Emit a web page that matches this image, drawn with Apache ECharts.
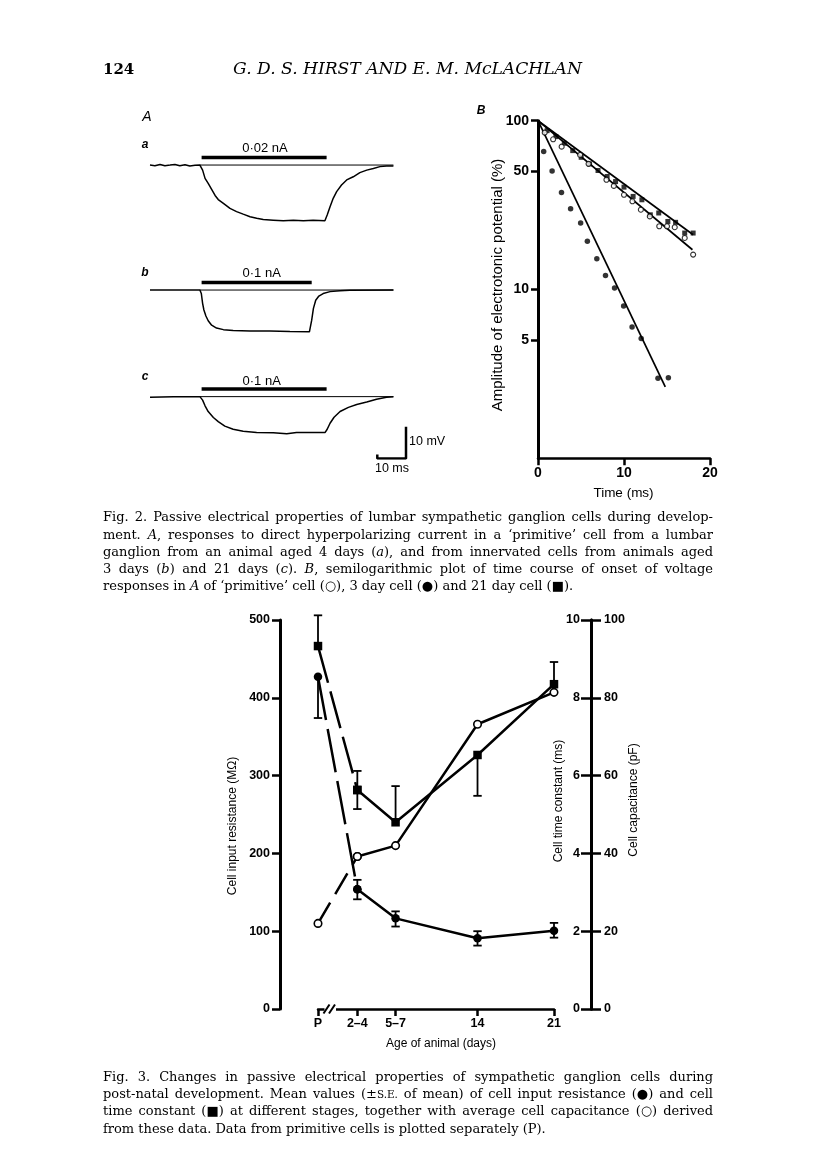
<!DOCTYPE html>
<html><head><meta charset="utf-8">
<script src="https://cdn.jsdelivr.net/npm/echarts@6/dist/echarts.min.js"></script>
<style>html,body{margin:0;padding:0;background:#fff}#c{width:816px;height:1163px}</style>
</head><body><div id="c"></div>
<script>
// ---------- Fig. 2A : voltage traces (time in ms from current onset, mV from rest) ----------
const traceA_t = [-18,-16.3,-14.5,-12.8,-11,-9.3,-7.6,-5.8,-4.1,-2.3,-0.6,0.35,1.2,2.3,3.5,4.7,5.8,7.6,9.9,12.2,14.5,16.9,19.2,21.5,25,28.5,32,35.5,38.9,43,43.8,44.8,45.9,47.1,48.8,50.6,52.9,55.2,57.6,59.9,62.2,64.5,66.9];
const traceA_v = [0,-0.2,0.2,-0.2,0,0.2,-0.2,0.1,-0.3,-0.1,0,-1.6,-4.2,-5.8,-7.7,-9.6,-10.9,-12.1,-13.7,-14.7,-15.5,-16.3,-16.8,-17.2,-17.4,-17.6,-17.4,-17.6,-17.4,-17.6,-15.8,-13.2,-10.5,-8.4,-6.3,-4.7,-3.7,-2.4,-1.6,-1.1,-0.5,-0.3,-0.3];
const traceB_t = [-18,-0.6,-0.1,0.35,0.8,1.5,2.3,3.5,5.2,7.6,11,16.9,23.8,30.8,37.6,38,38.4,39,39.8,40.9,42.4,44.8,48.3,51.7,66.9];
const traceB_v = [0,0,-1.1,-4.2,-6.3,-8.2,-9.7,-11.1,-12,-12.5,-12.8,-12.9,-12.9,-13.1,-13.2,-12.6,-9.5,-5.8,-3.2,-1.9,-1.1,-0.5,-0.2,-0.1,0];
const traceC_t = [-18,-9.9,-0.6,0.35,1.2,2.3,4.1,5.8,8.1,11,14.5,19.2,25,29.7,33.1,37.8,43.1,43.8,44.8,46.2,48.3,51.2,54.1,57.6,61,64.5,66.9];
const traceC_v = [-0.2,0,0,-1.1,-2.9,-4.7,-6.6,-7.9,-9.3,-10.3,-10.9,-11.3,-11.4,-11.7,-11.3,-11.3,-11.3,-10.3,-8.4,-6.5,-4.7,-3.4,-2.5,-1.7,-0.8,-0.2,0];
const pulseDur = [43.6, 38.4, 43.6];           // ms
const pulseLabels = ['0·02 nA', '0·1 nA', '0·1 nA'];
const traceNames = ['a', 'b', 'c'];
const refLine = [-0.6, 66.9];                   // ms, baseline reference
const scaleBar = [10, 10];                      // 10 ms, 10 mV

// ---------- Fig. 2B : semilog onset time course ----------
const day3_t = [0.66,1.64,2.73,3.79,4.96,5.74,6.84,7.85,8.9,9.96,10.94,12.0,13.95,15.16];
const day3_v = [65.6,50.4,37.6,30.1,24.8,19.3,15.2,12.1,10.2,7.98,6.0,5.12,2.98,3.0];
const day21_t = [1.06,2.08,3.06,4.04,5.02,6.0,6.98,8.04,9.02,10.0,11.06,12.08,13.06,14.04,15.1,16.0,17.06,18.04];
const day21_v = [87.3,80.5,73.5,66.5,60.7,55.5,50.7,46.7,43.6,40.4,35.6,34.0,27.7,28.4,25.3,25.0,21.6,21.6];
const prim_t = [0.78,1.76,2.75,4.9,5.88,7.96,8.82,10.0,10.98,11.96,13.0,14.1,15.0,15.9,17.06,18.04];
const prim_v = [85,77.6,70.2,62.7,55.5,44.7,41.1,36.4,33.3,29.7,27.1,23.7,23.7,23.4,20.2,16.1];
const fitDay3 = [[0,100],[14.8,2.65]];
const fitDay21 = [[0,100],[18.04,21.1]];
const fitPrim = [[0,100],[17.96,17.2]];
const logTicks = [5,10,50,100];

// ---------- Fig. 3 ----------
const ageLabels = ['P','2–4','5–7','14','21'];
const agePos = [-0.6, 3, 6.5, 14, 21];
const resistance = [427,154,116.5,91,100.7];     // MOhm
const resErrUp = [0,12,9,9,10];
const resErrDown = [53,13,10.5,9.5,9];
const timeConst = [9.33,5.63,4.8,6.53,8.35];     // ms
const tcErrUp = [0.79,0.49,0.93,0,0.57];
const tcErrDown = [0,0.49,0,1.05,0];
const capacitance = [22,39.2,42,73.2,81.4];      // pF

// ---------- captions ----------
const cap2 = [
 'Fig. 2. Passive electrical properties of lumbar sympathetic ganglion cells during develop-',
 'ment. *A*, responses to direct hyperpolarizing current in a ‘primitive’ cell from a lumbar',
 'ganglion from an animal aged 4 days (*a*), and from innervated cells from animals aged',
 '3 days (*b*) and 21 days (*c*). *B*, semilogarithmic plot of time course of onset of voltage',
 'responses in *A* of ‘primitive’ cell (○), 3 day cell (●) and 21 day cell (■).'
];
const cap3 = [
 'Fig. 3. Changes in passive electrical properties of sympathetic ganglion cells during',
 'post-natal development. Mean values (±^S.E.^ of mean) of cell input resistance (●) and cell',
 'time constant (■) at different stages, together with average cell capacitance (○) derived',
 'from these data. Data from primitive cells is plotted separately (P).'
];

// =====================================================================
const K = '#000';
const SANS = '"Liberation Sans", Arial, sans-serif';
const SERIF = '"DejaVu Serif", serif';
const mctx = document.createElement('canvas').getContext('2d');

function segs(word){
  const out=[]; let mode='n', buf='';
  for (const ch of word){
    if (ch==='*'||ch==='^'){ if(buf) out.push([mode,buf]); buf=''; const m = ch==='*'?'i':'s'; mode = mode===m?'n':m; }
    else buf+=ch;
  }
  if (buf) out.push([mode,buf]);
  return out;
}
function fontFor(m,size){
  if (m==='i') return 'italic '+size+'px '+SERIF;
  if (m==='s') return (size*0.8).toFixed(2)+'px '+SERIF;
  return size+'px '+SERIF;
}
function wordW(w,size){ return segs(w).reduce((a,[m,t])=>{ mctx.font=fontFor(m,size); return a+mctx.measureText(t).width; },0); }
function wordRich(w){ return segs(w).map(([m,t])=> m==='n'? t : '{'+m+'|'+t+'}').join(''); }

const X0 = 103, X1 = 713;
function natWidth(line,size){ mctx.font=fontFor('n',size); return line.split(' ').reduce((a,w)=>a+wordW(w,size),0) + (line.split(' ').length-1)*mctx.measureText(' ').width; }
const maxNat = Math.max(...cap2.slice(0,4).map(l=>natWidth(l,13)), ...cap3.slice(0,3).map(l=>natWidth(l,13)));
const capSize = Math.min(13, 13*(X1-X0)*0.985/maxNat);

function captionEls(lines, y0, lh){
  const els=[];
  mctx.font=fontFor('n',capSize);
  const sp = mctx.measureText(' ').width;
  lines.forEach((line,li)=>{
    const words=line.split(' ');
    const ws=words.map(w=>wordW(w,capSize));
    const tot=ws.reduce((a,b)=>a+b,0);
    const last = li===lines.length-1;
    const gap = last ? sp : (X1-X0-tot)/(words.length-1);
    let x=X0;
    words.forEach((w,i)=>{
      els.push({type:'text', x:x, y:y0+li*lh, z:50, style:{text:wordRich(w), font:fontFor('n',capSize), fill:K, align:'left', verticalAlign:'middle',
        rich:{ i:{fontStyle:'italic', fontSize:capSize, fontFamily:SERIF, fill:K}, s:{fontSize:capSize*0.8, fontFamily:SERIF, fill:K} }}});
      x += ws[i]+gap;
    });
  });
  return els;
}

const headTitle = 'G. D. S. HIRST AND E. M. McLACHLAN';
mctx.font = 'italic 15px '+SERIF;
const headSize = 15*349/mctx.measureText(headTitle).width;

function txt(x,y,text,font,opts){
  return Object.assign({type:'text', x:x, y:y, z:50, style:Object.assign({text:text, font:font, fill:K, align:'center', verticalAlign:'middle'}, (opts&&opts.style)||{})}, (opts&&opts.el)||{});
}

const traces = [[traceA_t,traceA_v],[traceB_t,traceB_v],[traceC_t,traceC_v]];
const BAR_LEVEL = 2.4;
const traceGridTops = [149.2, 274.2, 380.8];

const grids = traceGridTops.map(t=>({left:150, top:t, width:243.7, height:79.2}));
grids.push({left:377.3, top:426.7, width:28.7, height:31.7});
grids.push({left:538, top:120.7, width:172, height:337.6});
grids.push({left:318, top:620, width:236, height:389});

const axLine = w => ({show:true, onZero:false, lineStyle:{color:'#000', width:w}});
const tickLbl = (size, margin) => ({color:K, fontFamily:SANS, fontWeight:'bold', fontSize:size, margin:margin});

const xAxes = [0,1,2].map(i=>({type:'value', gridIndex:i, min:-18, max:67, show:false}));
xAxes.push({type:'value', gridIndex:3, min:0, max:10, show:false});
xAxes.push({type:'value', gridIndex:4, min:0, max:20, interval:10, axisLine:axLine(2.5),
  axisTick:{show:true, length:7, lineStyle:{color:'#000', width:2.5}}, axisLabel:tickLbl(14,8), splitLine:{show:false}});
xAxes.push({type:'value', gridIndex:5, min:-0.6, max:21, axisLine:axLine(2.5),
  axisTick:{show:true, length:7, customValues:agePos, lineStyle:{color:'#000', width:2.5}},
  axisLabel:Object.assign(tickLbl(12.5,8), {customValues:agePos, showMinLabel:true, showMaxLabel:true,
    formatter:v=>{ const i=agePos.findIndex(p=>Math.abs(p-v)<1e-6); return i>=0?ageLabels[i]:''; }}),
  splitLine:{show:false}});

const yAxes = [0,1,2].map(i=>({type:'value', gridIndex:i, min:-20, max:5, show:false}));
yAxes.push({type:'value', gridIndex:3, min:0, max:10, show:false});
yAxes.push({type:'log', gridIndex:4, logBase:10, min:1, max:100, axisLine:axLine(3),
  axisTick:{show:true, length:7, customValues:logTicks, lineStyle:{color:'#000', width:2.5}},
  axisLabel:Object.assign(tickLbl(14,9), {customValues:logTicks}), splitLine:{show:false}, minorTick:{show:false}});
yAxes.push({type:'value', gridIndex:5, position:'left', offset:38, min:0, max:500, interval:100, axisLine:axLine(3),
  axisTick:{show:true, length:8, lineStyle:{color:'#000', width:2.5}}, axisLabel:tickLbl(12.5,10), splitLine:{show:false}});
yAxes.push({type:'value', gridIndex:5, position:'right', offset:37, min:0, max:10, interval:2, axisLine:axLine(3),
  axisTick:{show:true, inside:true, length:10, lineStyle:{color:'#000', width:2.5}}, axisLabel:Object.assign(tickLbl(12.5,11),{inside:true}), splitLine:{show:false}});
yAxes.push({type:'value', gridIndex:5, position:'right', offset:37, min:0, max:100, interval:20, axisLine:axLine(3),
  axisTick:{show:true, length:10, lineStyle:{color:'#000', width:2.5}}, axisLabel:tickLbl(12.5,13), splitLine:{show:false}});

const series = [];
traces.forEach(([ts,vs],i)=>{
  series.push({type:'line', xAxisIndex:i, yAxisIndex:i, data:refLine.map(t=>[t,0]), symbol:'none', lineStyle:{color:'#000', width:1}, z:2});
  series.push({type:'line', xAxisIndex:i, yAxisIndex:i, data:[[0,BAR_LEVEL],[pulseDur[i],BAR_LEVEL]], symbol:'none', lineStyle:{color:'#000', width:3.5, cap:'butt'}, z:2});
  series.push({type:'line', xAxisIndex:i, yAxisIndex:i, data:ts.map((t,k)=>[t,vs[k]]), symbol:'none', lineStyle:{color:'#000', width:1.5}, z:3});
});
series.push({type:'line', xAxisIndex:3, yAxisIndex:3, data:[[0,1.2],[0,0],[scaleBar[0],0],[scaleBar[0],scaleBar[1]]], symbol:'none', lineStyle:{color:'#000', width:2.5}});

// Fig 2B
[fitDay3, fitDay21, fitPrim].forEach(f=>series.push({type:'line', xAxisIndex:4, yAxisIndex:4, data:f, symbol:'none', lineStyle:{color:'#000', width:1.7}, z:2}));
series.push({type:'scatter', xAxisIndex:4, yAxisIndex:4, data:day3_t.map((t,k)=>[t,day3_v[k]]), symbol:'circle', symbolSize:5.5, itemStyle:{color:'#000'}, z:4});
series.push({type:'scatter', xAxisIndex:4, yAxisIndex:4, data:day21_t.map((t,k)=>[t,day21_v[k]]), symbol:'rect', symbolSize:5, itemStyle:{color:'#000'}, z:4});
series.push({type:'scatter', xAxisIndex:4, yAxisIndex:4, data:prim_t.map((t,k)=>[t,prim_v[k]]), symbol:'circle', symbolSize:5, itemStyle:{color:'#fff', borderColor:'#000', borderWidth:1.1}, z:5});

// Fig 3
function errBars(vals, up, dn, yIdx){
  return {type:'custom', xAxisIndex:5, yAxisIndex:yIdx, z:3, data:agePos.map((x,i)=>[x,vals[i],up[i],dn[i]]),
    renderItem:(params, api)=>{
      const x=api.value(0), y=api.value(1), u=api.value(2), d=api.value(3);
      const top=api.coord([x,y+u]), bot=api.coord([x,y-d]);
      const hw=4.2, st={stroke:'#000', lineWidth:1.8};
      const ch=[{type:'line', shape:{x1:top[0],y1:top[1],x2:bot[0],y2:bot[1]}, style:st}];
      if(u>0) ch.push({type:'line', shape:{x1:top[0]-hw,y1:top[1],x2:top[0]+hw,y2:top[1]}, style:st});
      if(d>0) ch.push({type:'line', shape:{x1:bot[0]-hw,y1:bot[1],x2:bot[0]+hw,y2:bot[1]}, style:st});
      return {type:'group', children:ch};
    }};
}
function fig3Series(vals, yIdx, symbol, size, itemStyle, dash){
  const pts = agePos.map((x,i)=>[x,vals[i]]);
  series.push({type:'line', xAxisIndex:5, yAxisIndex:yIdx, data:pts.slice(0,2), symbol:symbol, symbolSize:size, itemStyle:itemStyle,
    lineStyle:{color:'#000', width:2.5, type:dash}, z:4});
  series.push({type:'line', xAxisIndex:5, yAxisIndex:yIdx, data:pts.slice(1), symbol:symbol, symbolSize:size, itemStyle:itemStyle,
    lineStyle:{color:'#000', width:2.5}, z:4});
}
series.push(errBars(timeConst, tcErrUp, tcErrDown, 6));
series.push(errBars(resistance, resErrUp, resErrDown, 5));
fig3Series(timeConst, 6, 'rect', 8.5, {color:'#000'}, [38,9]);
fig3Series(resistance, 5, 'circle', 8.5, {color:'#000'}, [44,9]);
fig3Series(capacitance, 7, 'circle', 7.5, {color:'#fff', borderColor:'#000', borderWidth:1.6}, [24,10]);

// text & decorations
const graphics = [];
graphics.push(txt(103,70,'124','bold 15px '+SERIF,{style:{align:'left'}}));
graphics.push(txt(407.5,70,headTitle,'italic '+headSize.toFixed(2)+'px '+SERIF));
graphics.push(txt(147,117,'A','italic 14px '+SANS));
graphics.push(txt(481,111,'B','italic bold 12px '+SANS));
const nameY=[145,273,377], pulseLblX=[265,261.7,261.7], pulseLblY=[148.3,273.3,381.7];
traceNames.forEach((n,i)=>{
  graphics.push(txt(145,nameY[i],n,'italic bold 12px '+SANS));
  graphics.push(txt(pulseLblX[i],pulseLblY[i],pulseLabels[i],'13px '+SANS));
});
graphics.push(txt(409,442,'10 mV','12.5px '+SANS,{style:{align:'left'}}));
graphics.push(txt(392,469,'10 ms','12.5px '+SANS));
graphics.push(txt(498,285,'Amplitude of electrotonic potential (%)','15px '+SANS,{el:{rotation:Math.PI/2}}));
graphics.push(txt(623.5,493,'Time (ms)','13.5px '+SANS));
graphics.push(txt(233,826,'Cell input resistance (MΩ)','12px '+SANS,{el:{rotation:Math.PI/2}}));
graphics.push(txt(558.5,801,'Cell time constant (ms)','12px '+SANS,{el:{rotation:Math.PI/2}}));
graphics.push(txt(633.5,800,'Cell capacitance (pF)','12px '+SANS,{el:{rotation:Math.PI/2}}));
graphics.push(txt(441,1044,'Age of animal (days)','12px '+SANS));
// axis break marks on the age axis
graphics.push({type:'rect', z:60, shape:{x:324.5, y:1005.5, width:11.5, height:7}, style:{fill:'#fff'}});
graphics.push({type:'line', z:61, shape:{x1:323.5,y1:1013.5,x2:329.5,y2:1004.5}, style:{stroke:'#000', lineWidth:2}});
graphics.push({type:'line', z:61, shape:{x1:329,y1:1013.5,x2:335,y2:1004.5}, style:{stroke:'#000', lineWidth:2}});
graphics.push(...captionEls(cap2, 518, 17.2));
graphics.push(...captionEls(cap3, 1077.5, 17.3));

const chart = echarts.init(document.getElementById('c'), null, {renderer:'canvas'});
chart.setOption({animation:false, backgroundColor:'#fff', grid:grids, xAxis:xAxes, yAxis:yAxes, series:series, graphic:{elements:graphics}});
</script>
</body></html>
